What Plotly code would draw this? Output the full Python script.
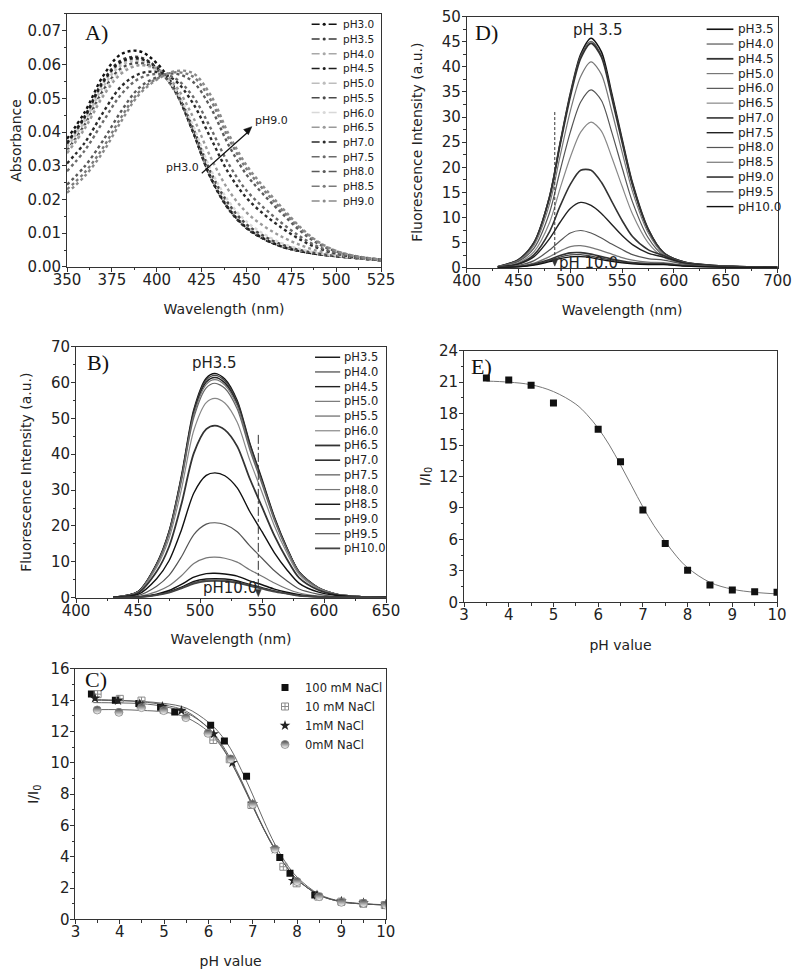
import plotly.graph_objects as go

# ---------------- A) absorbance spectra ----------------
abs_wl = [350, 360, 370, 380, 390, 400, 410, 420, 430, 440, 450, 460, 470, 480, 490, 500, 510, 525]
abs_labels = ["pH3.0", "pH3.5", "pH4.0", "pH4.5", "pH5.0", "pH5.5", "pH6.0",
              "pH6.5", "pH7.0", "pH7.5", "pH8.0", "pH8.5", "pH9.0"]
abs_ph30 = [0.038, 0.046, 0.0565, 0.063, 0.064, 0.0604, 0.053, 0.0405, 0.0265, 0.0172, 0.0115, 0.0082, 0.006, 0.0047, 0.0038, 0.0032, 0.0027, 0.002]
abs_ph35 = [0.0368, 0.0448, 0.0551, 0.0612, 0.0622, 0.0592, 0.0524, 0.0404, 0.0266, 0.0173, 0.0116, 0.0083, 0.006, 0.0047, 0.0038, 0.0032, 0.0027, 0.002]
abs_ph40 = [0.0362, 0.0441, 0.0543, 0.0604, 0.0615, 0.0588, 0.0522, 0.0405, 0.0268, 0.0175, 0.0118, 0.0084, 0.0061, 0.0047, 0.0038, 0.0032, 0.0027, 0.002]
abs_ph45 = [0.0366, 0.0445, 0.0547, 0.0608, 0.0618, 0.059, 0.0523, 0.0404, 0.0267, 0.0174, 0.0117, 0.0083, 0.006, 0.0047, 0.0038, 0.0032, 0.0027, 0.002]
abs_ph50 = [0.0355, 0.0433, 0.0533, 0.0597, 0.061, 0.0586, 0.0524, 0.041, 0.0275, 0.0182, 0.0123, 0.0088, 0.0064, 0.0049, 0.0039, 0.0033, 0.0027, 0.002]
abs_ph55 = [0.0345, 0.0423, 0.0522, 0.0588, 0.0605, 0.0585, 0.0527, 0.0415, 0.0282, 0.0188, 0.0127, 0.0091, 0.0066, 0.005, 0.004, 0.0033, 0.0027, 0.002]
abs_ph60 = [0.034, 0.0416, 0.0513, 0.058, 0.0598, 0.0582, 0.0529, 0.0422, 0.029, 0.0196, 0.0135, 0.0097, 0.007, 0.0053, 0.0041, 0.0034, 0.0028, 0.002]
abs_ph65 = [0.0337, 0.0411, 0.0505, 0.0572, 0.0598, 0.0588, 0.0541, 0.0447, 0.0326, 0.0228, 0.0162, 0.012, 0.0089, 0.0065, 0.0047, 0.0036, 0.0029, 0.002]
abs_ph70 = [0.0307, 0.0369, 0.0457, 0.0534, 0.0572, 0.0578, 0.0554, 0.0487, 0.0383, 0.0279, 0.0205, 0.0155, 0.0115, 0.0081, 0.0056, 0.004, 0.003, 0.0021]
abs_ph75 = [0.0284, 0.0346, 0.043, 0.051, 0.0558, 0.0572, 0.056, 0.0507, 0.0412, 0.0306, 0.0227, 0.0174, 0.0129, 0.009, 0.006, 0.0042, 0.0031, 0.0021]
abs_ph80 = [0.0244, 0.0299, 0.0374, 0.046, 0.053, 0.0562, 0.0573, 0.055, 0.0473, 0.0362, 0.0274, 0.0212, 0.0158, 0.0107, 0.0069, 0.0046, 0.0032, 0.0022]
abs_ph85 = [0.023, 0.0281, 0.0353, 0.0442, 0.0518, 0.0558, 0.0577, 0.0565, 0.0495, 0.0382, 0.0291, 0.0226, 0.0168, 0.0114, 0.0073, 0.0047, 0.0033, 0.0022]
abs_ph90 = [0.022, 0.027, 0.034, 0.043, 0.051, 0.0555, 0.058, 0.0575, 0.051, 0.0395, 0.0302, 0.0235, 0.0175, 0.0118, 0.0075, 0.0048, 0.0033, 0.0022]
abs_curves = [abs_ph30, abs_ph35, abs_ph40, abs_ph45, abs_ph50, abs_ph55, abs_ph60,
              abs_ph65, abs_ph70, abs_ph75, abs_ph80, abs_ph85, abs_ph90]
abs_colors = ["#111111", "#3a3a3a", "#a8a8a8", "#1e1e1e", "#bdbdbd", "#4a4a4a", "#d8d8d8",
              "#9a9a9a", "#2a2a2a", "#6a6a6a", "#5a5a5a", "#7a7a7a", "#8a8a8a"]

# ---------------- D) fluorescence, second probe ----------------
fd_wl = [430, 450, 465, 480, 490, 500, 510, 520, 530, 540, 550, 560, 575, 590, 610, 640, 700]
fd_labels = ["pH3.5", "pH4.0", "pH4.5", "pH5.0", "pH6.0", "pH6.5", "pH7.0",
             "pH7.5", "pH8.0", "pH8.5", "pH9.0", "pH9.5", "pH10.0"]
fd_ph35 = [0.2, 1.6, 5.0, 14.2, 24.7, 34.7, 42.5, 45.7, 43.0, 34.7, 25.6, 16.9, 7.8, 3.0, 1.1, 0.4, 0.05]
fd_ph40 = [0.2, 1.6, 5.0, 14.2, 24.6, 34.5, 42.2, 45.1, 42.3, 34.2, 25.2, 16.6, 7.7, 3.0, 1.1, 0.4, 0.05]
fd_ph45 = [0.2, 1.6, 5.0, 14.0, 24.3, 34.1, 41.7, 44.7, 42.0, 33.9, 25.0, 16.5, 7.6, 2.9, 1.1, 0.4, 0.05]
fd_ph50 = [0.2, 1.4, 4.5, 12.7, 22.1, 31.2, 38.1, 41.0, 38.5, 31.2, 23.0, 15.2, 7.0, 2.7, 1.0, 0.35, 0.05]
fd_ph60 = [0.15, 1.25, 3.9, 11.0, 19.2, 27.0, 33.0, 35.4, 33.3, 27.0, 19.9, 13.1, 6.0, 2.4, 0.9, 0.3, 0.05]
fd_ph65 = [0.12, 1.0, 3.2, 9.0, 15.7, 22.0, 27.0, 29.0, 27.2, 22.0, 16.2, 10.7, 5.0, 2.1, 0.8, 0.3, 0.05]
fd_ph70 = [0.1, 0.8, 2.6, 7.2, 12.2, 16.6, 19.4, 19.4, 17.0, 13.2, 9.4, 6.2, 3.6, 2.4, 0.9, 0.3, 0.05]
fd_ph75 = [0.1, 0.7, 2.2, 5.8, 9.0, 11.8, 13.0, 12.4, 10.8, 8.6, 6.4, 4.6, 2.9, 2.1, 0.9, 0.3, 0.05]
fd_ph80 = [0.05, 0.45, 1.4, 3.5, 5.3, 6.9, 7.4, 6.9, 5.9, 4.7, 3.6, 2.6, 1.8, 1.5, 0.7, 0.25, 0.05]
fd_ph85 = [0.05, 0.3, 0.9, 2.2, 3.3, 4.2, 4.4, 4.0, 3.4, 2.7, 2.0, 1.5, 1.1, 1.0, 0.5, 0.2, 0.05]
fd_ph90 = [0.03, 0.2, 0.7, 1.6, 2.4, 2.95, 3.0, 2.7, 2.2, 1.7, 1.3, 1.0, 0.8, 0.75, 0.4, 0.15, 0.03]
fd_ph95 = [0.03, 0.2, 0.6, 1.4, 2.1, 2.55, 2.6, 2.3, 1.9, 1.5, 1.1, 0.9, 0.7, 0.7, 0.35, 0.15, 0.03]
fd_ph100 = [0.03, 0.15, 0.5, 1.2, 1.8, 2.15, 2.2, 2.0, 1.6, 1.25, 0.95, 0.75, 0.6, 0.6, 0.3, 0.1, 0.03]
fd_curves = [fd_ph35, fd_ph40, fd_ph45, fd_ph50, fd_ph60, fd_ph65, fd_ph70,
             fd_ph75, fd_ph80, fd_ph85, fd_ph90, fd_ph95, fd_ph100]
fd_colors = ["#111111", "#555555", "#333333", "#777777", "#555555", "#888888", "#333333",
             "#222222", "#555555", "#777777", "#333333", "#444444", "#111111"]
fd_widths = [1.6, 1.2, 1.8, 1.2, 1.2, 1.2, 1.6, 1.4, 1.2, 1.2, 1.6, 1.2, 1.4]

# ---------------- B) fluorescence spectra ----------------
fb_wl = [430, 450, 465, 475, 485, 495, 505, 512, 520, 530, 540, 550, 560, 570, 580, 595, 610, 630, 650]
fb_labels = ["pH3.5", "pH4.0", "pH4.5", "pH5.0", "pH5.5", "pH6.0", "pH6.5",
             "pH7.0", "pH7.5", "pH8.0", "pH8.5", "pH9.0", "pH9.5", "pH10.0"]
fb_ph35 = [0.1, 1.7, 9.5, 18.5, 34.0, 52.5, 61.2, 62.5, 61.0, 55.0, 43.3, 33.0, 22.5, 14.0, 7.2, 2.9, 1.0, 0.3, 0.1]
fb_ph40 = [0.1, 1.7, 9.4, 18.4, 33.7, 52.1, 60.7, 62.0, 60.5, 54.6, 43.0, 32.7, 22.3, 13.9, 7.1, 2.9, 1.0, 0.3, 0.1]
fb_ph45 = [0.1, 1.7, 9.3, 18.2, 33.4, 51.6, 60.1, 61.4, 59.9, 54.0, 42.6, 32.4, 22.1, 13.8, 7.1, 2.8, 1.0, 0.3, 0.1]
fb_ph50 = [0.1, 1.6, 9.2, 18.0, 33.1, 51.1, 59.5, 60.8, 59.3, 53.5, 42.1, 32.1, 21.9, 13.6, 7.0, 2.8, 1.0, 0.3, 0.1]
fb_ph55 = [0.1, 1.6, 9.1, 17.7, 32.5, 50.2, 58.5, 59.8, 58.4, 52.6, 41.4, 31.6, 21.5, 13.4, 6.9, 2.8, 1.0, 0.3, 0.1]
fb_ph60 = [0.1, 1.5, 8.5, 16.5, 30.2, 46.7, 54.4, 55.6, 54.3, 48.9, 38.5, 29.4, 20.0, 12.5, 6.4, 2.6, 0.9, 0.3, 0.1]
fb_ph65 = [0.1, 1.3, 7.3, 14.2, 26.1, 40.3, 47.0, 48.0, 46.8, 42.2, 33.3, 25.3, 17.3, 10.8, 5.5, 2.2, 0.8, 0.2, 0.1]
fb_ph70 = [0.1, 0.9, 5.3, 10.3, 18.9, 29.2, 34.1, 34.8, 34.0, 30.6, 24.1, 18.4, 12.5, 7.8, 4.0, 1.6, 0.6, 0.2, 0.1]
fb_ph75 = [0.0, 0.6, 3.2, 6.2, 11.4, 17.6, 20.5, 20.9, 20.4, 18.4, 14.5, 11.0, 7.5, 4.7, 2.4, 1.0, 0.3, 0.1, 0.0]
fb_ph80 = [0.0, 0.3, 1.7, 3.3, 6.1, 9.5, 11.1, 11.3, 11.0, 9.9, 7.8, 6.0, 4.1, 2.5, 1.3, 0.5, 0.2, 0.1, 0.0]
fb_ph85 = [0.0, 0.2, 1.0, 2.0, 3.7, 5.7, 6.7, 6.8, 6.6, 6.0, 4.7, 3.6, 2.4, 1.5, 0.8, 0.3, 0.1, 0.0, 0.0]
fb_ph90 = [0.0, 0.1, 0.8, 1.6, 2.9, 4.5, 5.2, 5.3, 5.2, 4.7, 3.7, 2.8, 1.9, 1.2, 0.6, 0.2, 0.1, 0.0, 0.0]
fb_ph95 = [0.0, 0.1, 0.8, 1.5, 2.7, 4.2, 4.9, 5.0, 4.9, 4.4, 3.5, 2.6, 1.8, 1.1, 0.6, 0.2, 0.1, 0.0, 0.0]
fb_ph100 = [0.0, 0.1, 0.7, 1.4, 2.6, 3.9, 4.6, 4.7, 4.6, 4.1, 3.3, 2.5, 1.7, 1.1, 0.5, 0.2, 0.1, 0.0, 0.0]
fb_curves = [fb_ph35, fb_ph40, fb_ph45, fb_ph50, fb_ph55, fb_ph60, fb_ph65,
             fb_ph70, fb_ph75, fb_ph80, fb_ph85, fb_ph90, fb_ph95, fb_ph100]
fb_colors = ["#111111", "#444444", "#222222", "#777777", "#666666", "#888888", "#333333",
             "#111111", "#555555", "#777777", "#111111", "#111111", "#555555", "#444444"]
fb_widths = [1.4, 1.2, 1.4, 1.2, 1.2, 1.2, 1.8, 1.4, 1.2, 1.2, 1.4, 1.4, 1.2, 1.8]

# ---------------- E) I/I0 vs pH ----------------
e_ph = [3.5, 4.0, 4.5, 5.0, 6.0, 6.5, 7.0, 7.5, 8.0, 8.5, 9.0, 9.5, 10.0]
e_ratio = [21.4, 21.2, 20.7, 19.0, 16.5, 13.4, 8.8, 5.6, 3.05, 1.65, 1.17, 1.0, 0.95]
e_fit_ph = [3.5, 4.0, 4.5, 5.0, 5.5, 5.75, 6.0, 6.25, 6.5, 6.75, 7.0, 7.25, 7.5, 7.75, 8.0, 8.5, 9.0, 9.5, 10.0]
e_fit_val = [21.1, 21.0, 20.75, 20.1, 18.9, 17.9, 16.6, 15.0, 13.1, 11.1, 9.1, 7.3, 5.8, 4.4, 3.3, 1.9, 1.25, 0.95, 0.8]

# ---------------- C) I/I0 vs pH at different NaCl ----------------
c_names = ["100 mM NaCl", "10 mM NaCl", "1mM NaCl", "0mM NaCl"]
c100_ph = [3.36, 3.9, 4.43, 4.92, 5.24, 6.05, 6.36, 6.86, 7.61, 7.84, 8.4, 9.5, 10.0]
c100_val = [14.4, 14.0, 13.8, 13.55, 13.25, 12.4, 11.4, 9.15, 3.95, 2.95, 1.55, 1.0, 0.95]
c10_ph = [3.5, 4.0, 4.49, 4.99, 6.11, 6.48, 6.97, 7.69, 7.99, 8.48, 9.0, 9.49, 9.98]
c10_val = [14.39, 14.09, 13.98, 13.38, 11.46, 10.23, 7.31, 3.36, 2.3, 1.45, 1.13, 1.02, 0.91]
c1_ph = [3.44, 3.96, 4.45, 4.96, 5.39, 6.12, 6.54, 7.0, 7.5, 7.91, 8.45, 9.0, 9.5, 10.0]
c1_val = [14.13, 13.98, 13.77, 13.6, 13.34, 11.85, 10.01, 7.37, 4.48, 2.47, 1.55, 1.15, 1.05, 0.95]
c0_ph = [3.49, 3.98, 4.49, 4.99, 5.49, 5.99, 6.5, 7.0, 7.5, 8.0, 8.5, 9.0, 9.5, 10.0]
c0_val = [13.38, 13.23, 13.53, 13.34, 12.89, 11.89, 10.25, 7.35, 4.49, 2.41, 1.45, 1.09, 1.02, 0.91]
cfit_ph = [3.4, 4.0, 4.5, 5.0, 5.5, 6.0, 6.25, 6.5, 6.75, 7.0, 7.25, 7.5, 7.75, 8.0, 8.5, 9.0, 9.5, 10.0]
cfit100 = [14.0, 13.97, 13.92, 13.8, 13.5, 12.6, 11.9, 10.9, 9.5, 7.95, 6.3, 4.8, 3.6, 2.7, 1.6, 1.15, 1.0, 0.93]
cfit10 = [14.05, 14.0, 13.9, 13.7, 13.3, 12.2, 11.3, 10.1, 8.7, 7.2, 5.75, 4.45, 3.4, 2.55, 1.55, 1.12, 0.98, 0.92]
cfit1 = [13.85, 13.83, 13.78, 13.6, 13.2, 12.25, 11.4, 10.25, 8.85, 7.3, 5.8, 4.5, 3.4, 2.55, 1.55, 1.12, 0.98, 0.92]
cfit0 = [13.4, 13.4, 13.35, 13.25, 12.9, 12.0, 11.2, 10.1, 8.75, 7.25, 5.75, 4.45, 3.4, 2.55, 1.55, 1.12, 0.98, 0.92]

FONT = "DejaVu Sans"
SERIF = "Liberation Serif"
INK = "#222222"

fig = go.Figure()

# A
for lab, vals, col in zip(abs_labels, abs_curves, abs_colors):
    fig.add_trace(go.Scatter(x=abs_wl, y=vals, name=lab, mode="lines", line_shape="spline",
                             line=dict(color=col, width=2.4, dash="dot"),
                             xaxis="x", yaxis="y", showlegend=False))
# D
for lab, vals, col, w in zip(fd_labels, fd_curves, fd_colors, fd_widths):
    fig.add_trace(go.Scatter(x=fd_wl, y=vals, name=lab, mode="lines", line_shape="spline",
                             line=dict(color=col, width=w, smoothing=0.8),
                             xaxis="x2", yaxis="y2", showlegend=False))
# B
for lab, vals, col, w in zip(fb_labels, fb_curves, fb_colors, fb_widths):
    fig.add_trace(go.Scatter(x=fb_wl, y=vals, name=lab, mode="lines", line_shape="spline",
                             line=dict(color=col, width=w, smoothing=0.8),
                             xaxis="x3", yaxis="y3", showlegend=False))
# E
fig.add_trace(go.Scatter(x=e_fit_ph, y=e_fit_val, mode="lines", line_shape="spline",
                         line=dict(color="#777777", width=1), xaxis="x4", yaxis="y4", showlegend=False))
fig.add_trace(go.Scatter(x=e_ph, y=e_ratio, mode="markers",
                         marker=dict(symbol="square", size=7, color="#111111"),
                         xaxis="x4", yaxis="y4", showlegend=False))
# C
for fv in [cfit100, cfit10, cfit1, cfit0]:
    fig.add_trace(go.Scatter(x=cfit_ph, y=fv, mode="lines", line_shape="spline",
                             line=dict(color="#555555", width=0.9), xaxis="x5", yaxis="y5",
                             showlegend=False))
c_sets = [(c100_ph, c100_val, dict(symbol="square", size=7, color="#111111")),
          (c10_ph, c10_val, dict(symbol="square-cross-open", size=7, color="#8a8a8a", line=dict(width=1))),
          (c1_ph, c1_val, dict(symbol="star", size=8, color="#222222")),
          (c0_ph, c0_val, dict(symbol="circle", size=8, color="#444444",
                               gradient=dict(type="vertical", color="#ffffff"),
                               line=dict(color="#888888", width=0.8)))]
for nm, (px, py, mk) in zip(c_names, c_sets):
    fig.add_trace(go.Scatter(x=px, y=py, name=nm, mode="markers", marker=mk,
                             xaxis="x5", yaxis="y5", showlegend=True))


def axis(rng, dtick, minor, domain, anchor, title, standoff, lab_off, fmt=None):
    d = dict(range=rng, dtick=dtick, tick0=rng[0], domain=domain, anchor=anchor,
             showline=True, linecolor="#333333", linewidth=1, mirror=True,
             ticks="outside", ticklen=4, tickcolor="#333333", ticklabelstandoff=lab_off,
             ticklabeloverflow="allow",
             minor=dict(ticks="outside", ticklen=2.5, dtick=minor, tickcolor="#333333"),
             showgrid=False, zeroline=False,
             tickfont=dict(family=FONT, size=15, color=INK),
             title=dict(text=title, font=dict(family=FONT, size=14, color=INK), standoff=standoff))
    if fmt:
        d["tickformat"] = fmt
    return d


# the page body adds an 8 px offset, so the figure is 792 x 961
dom = {
    "A": ([0.0745, 0.4710], [0.7305, 0.9938]),
    "D": ([0.5792, 0.9716], [0.7298, 0.9910]),
    "B": ([0.0859, 0.4773], [0.3864, 0.6476]),
    "E": ([0.5758, 0.9710], [0.3816, 0.6434]),
    "C": ([0.0852, 0.4769], [0.0517, 0.3122]),
}

fig.update_layout(
    width=792, height=961, template="none",
    paper_bgcolor="white", plot_bgcolor="white",
    margin=dict(l=0, r=0, t=0, b=0),
    font=dict(family=FONT, color=INK),
    xaxis=axis([350, 525], 25, 12.5, dom["A"][0], "y", "Wavelength (nm)", 16, -5),
    yaxis=axis([0, 0.075], 0.01, 0.005, dom["A"][1], "x", "Absorbance", 10, -2, ".2f"),
    xaxis2=axis([400, 700], 50, 25, dom["D"][0], "y2", "Wavelength (nm)", 16, -5),
    yaxis2=axis([0, 50], 5, 2.5, dom["D"][1], "x2", "Fluorescence Intensity (a.u.)", 15, -2),
    xaxis3=axis([400, 650], 50, 25, dom["B"][0], "y3", "Wavelength (nm)", 15, -5),
    yaxis3=axis([0, 70], 10, 5, dom["B"][1], "x3", "Fluorescence Intensity (a.u.)", 16, -2),
    xaxis4=axis([3, 10], 1, 0.5, dom["E"][0], "y4", "pH value", 16, -5),
    yaxis4=axis([0, 24], 3, 1.5, dom["E"][1], "x4", "I/I<sub>0</sub>", 5, -2),
    xaxis5=axis([3, 10], 1, 0.5, dom["C"][0], "y5", "pH value", 16, -5),
    yaxis5=axis([0, 16], 2, 1, dom["C"][1], "x5", "I/I<sub>0</sub>", 8, -2),
    legend=dict(x=0.3245, y=0.308, xanchor="left", yanchor="top", bgcolor="rgba(0,0,0,0)",
                font=dict(family=FONT, size=11.5, color=INK), tracegroupgap=0),
)


def line_legend(xref, yref, labels, colors, widths, x0, x1, xt, ytop, step, fsize, dotted=False):
    for i, lab in enumerate(labels):
        yy = ytop - i * step
        fig.add_shape(type="line", xref=xref, yref=yref, x0=x0, x1=x1, y0=yy, y1=yy,
                      line=dict(color=colors[i], width=widths[i],
                                dash="8px,9px,8px" if dotted else "solid"))
        if dotted:
            xm = (x0 + x1) / 2
            fig.add_shape(type="circle", xref=xref, yref=yref, x0=xm - 0.005, x1=xm + 0.005,
                          y0=yy - 0.006, y1=yy + 0.006, line=dict(width=0),
                          fillcolor=colors[i])
        fig.add_annotation(xref=xref, yref=yref, x=xt, y=yy, text=lab, showarrow=False,
                           xanchor="left", yanchor="middle",
                           font=dict(family=FONT, size=fsize, color=INK))


line_legend("x domain", "y domain", abs_labels, abs_colors, [1.5] * 13,
            0.779, 0.859, 0.872, 0.9593, 0.05818, 10.5, dotted=True)
line_legend("x2 domain", "y2 domain", fd_labels, fd_colors, fd_widths,
            0.772, 0.858, 0.866, 0.9498, 0.05888, 12)
line_legend("x3 domain", "y3 domain", fb_labels, fb_colors, fb_widths,
            0.771, 0.852, 0.859, 0.9578, 0.05857, 11.5)

# panel letters
for xr, yr, xx, yy, t in [("x domain", "y domain", 0.05, 0.925, "A)"),
                          ("x2 domain", "y2 domain", 0.02, 0.935, "D)"),
                          ("x3 domain", "y3 domain", 0.029, 0.935, "B)"),
                          ("x4 domain", "y4 domain", 0.016, 0.936, "E)"),
                          ("x5 domain", "y5 domain", 0.024, 0.956, "C)")]:
    fig.add_annotation(xref=xr, yref=yr, x=xx, y=yy, text=t, showarrow=False,
                       xanchor="left", yanchor="middle",
                       font=dict(family=SERIF, size=22, color="#111111"))

# A: arrow pH3.0 -> pH9.0
fig.add_shape(type="line", xref="x", yref="y", x0=425.1, y0=0.0278, x1=451.5, y1=0.0403,
              line=dict(color="#111111", width=1.2))
fig.add_shape(type="path", xref="x", yref="y", path="M 453,0.0416 L 448.41,0.04074 L 451.06,0.03922 Z",
              fillcolor="#111111", line=dict(color="#111111", width=0.5))
fig.add_annotation(xref="x", yref="y", x=453.5, y=0.0433, text="pH9.0", showarrow=False,
                   xanchor="left", yanchor="middle", font=dict(family=FONT, size=11, color=INK))
fig.add_annotation(xref="x", yref="y", x=424.5, y=0.0296, text="pH3.0", showarrow=False,
                   xanchor="right", yanchor="middle", font=dict(family=FONT, size=11, color=INK))

# D: labels and dashed marker
fig.add_annotation(xref="x2", yref="y2", x=526, y=47.4, text="pH 3.5", showarrow=False,
                   font=dict(family=FONT, size=15, color=INK))
fig.add_annotation(xref="x2", yref="y2", x=518, y=0.9, text="pH 10.0", showarrow=False,
                   font=dict(family=FONT, size=15, color=INK))
fig.add_shape(type="line", xref="x2", yref="y2", x0=485, x1=485, y0=31, y1=1.7,
              line=dict(color="#333333", width=1, dash="3px,2px"))
fig.add_shape(type="path", xref="x2", yref="y2", path="M 485,0.3 L 482.1,1.7 L 487.9,1.7 Z",
              fillcolor="#333333", line=dict(color="#333333", width=0.5))

# B: labels and dash-dot marker
fig.add_annotation(xref="x3", yref="y3", x=512, y=65.4, text="pH3.5", showarrow=False,
                   font=dict(family=FONT, size=15, color=INK))
fig.add_annotation(xref="x3", yref="y3", x=524, y=2.8, text="pH10.0", showarrow=False,
                   font=dict(family=FONT, size=15, color=INK))
fig.add_shape(type="line", xref="x3", yref="y3", x0=547, x1=547, y0=45.4, y1=2.25,
              line=dict(color="#333333", width=1, dash="dashdot"))
fig.add_shape(type="path", xref="x3", yref="y3", path="M 547,0.3 L 544.6,2.25 L 549.4,2.25 Z",
              fillcolor="#333333", line=dict(color="#333333", width=0.5))

fig.write_html("out.html")
